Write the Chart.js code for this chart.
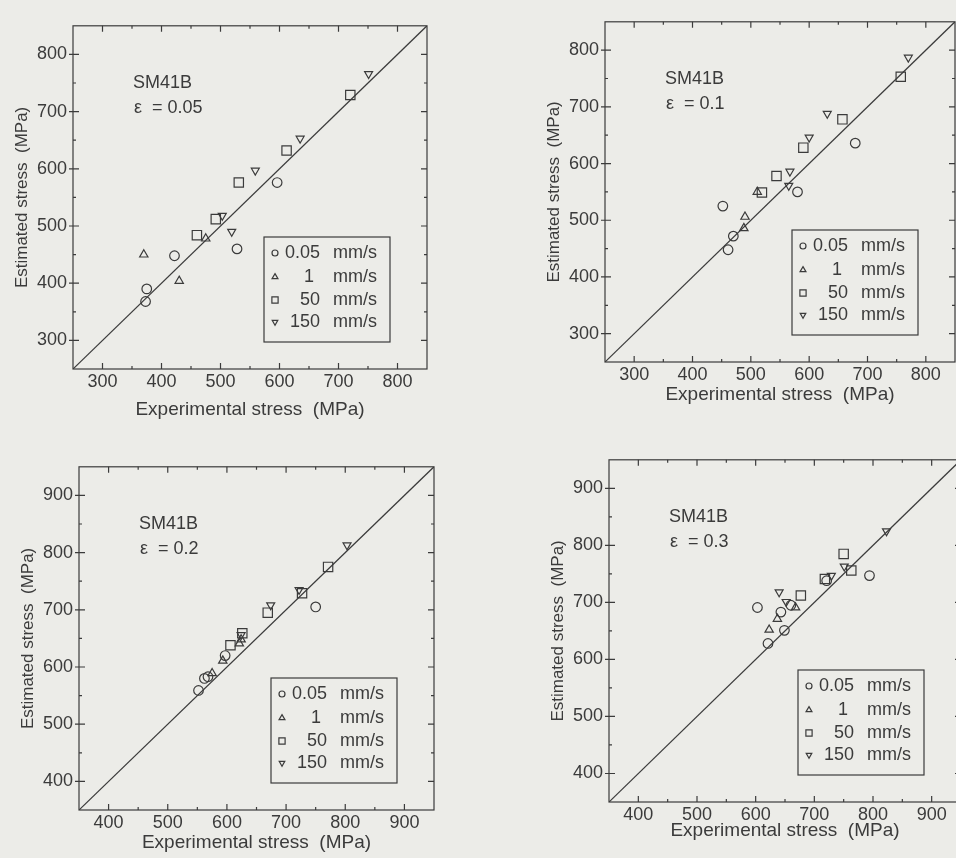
<!DOCTYPE html>
<html>
<head>
<meta charset="utf-8">
<script src="https://cdn.jsdelivr.net/npm/chart.js@4.4.1/dist/chart.umd.min.js"></script>
<style>
  html, body { margin: 0; padding: 0; width: 956px; height: 858px; overflow: hidden; background: #ecece8; }
  canvas { position: absolute; }
</style>
</head>
<body>
<canvas id="c1"></canvas>
<canvas id="c2"></canvas>
<canvas id="c3"></canvas>
<canvas id="c4"></canvas>
<script>
// Axis ranges and tick labels
const rangeLow = [250, 850];
const rangeHigh = [350, 950];
const ticksLow = [300, 400, 500, 600, 700, 800];
const ticksHigh = [400, 500, 600, 700, 800, 900];

// Legend entries (crosshead speed)
const speedLabels = ['0.05', '1', '50', '150'];
const speedUnit = 'mm/s';
const material = 'SM41B';
const strainLabels = ['0.05', '0.1', '0.2', '0.3'];

// [experimental, estimated] pairs, strain 0.05
const e005Circle = [[373, 368], [375, 390], [422, 448], [528, 460], [596, 576]];
const e005Tri    = [[370, 450], [430, 404], [475, 478]];
const e005Square = [[460, 484], [492, 512], [531, 576], [612, 632], [720, 729]];
const e005InvTri = [[503, 518], [519, 490], [559, 597], [635, 653], [751, 766]];

// strain 0.1
const e01Circle = [[452, 525], [461, 448], [470, 472], [580, 550], [679, 636]];
const e01Tri    = [[488, 486], [490, 506], [511, 550]];
const e01Square = [[519, 549], [544, 578], [590, 628], [657, 678], [757, 753]];
const e01InvTri = [[565, 561], [567, 586], [600, 646], [631, 688], [770, 787]];

// strain 0.2
const e02Circle = [[552, 559], [562, 580], [568, 583], [597, 620], [750, 705]];
const e02Tri    = [[575, 589], [593, 611], [621, 641], [624, 648]];
const e02Square = [[606, 638], [626, 659], [669, 695], [727, 729], [771, 775]];
const e02InvTri = [[624, 656], [674, 708], [722, 735], [803, 813]];

// strain 0.3
const e03Circle = [[603, 691], [621, 628], [643, 683], [649, 651], [660, 695], [721, 738], [794, 747]];
const e03Tri    = [[623, 652], [637, 671], [668, 691]];
const e03Square = [[677, 712], [718, 741], [750, 785], [763, 756]];
const e03InvTri = [[640, 718], [652, 701], [729, 747], [751, 763], [823, 825]];

const INK = '#3b3b3b';
const FONT = '"Liberation Sans", Arial, Helvetica, sans-serif';

// marker shapes: circle, triangle, square, inverted triangle
const markerStyle = ['circle', 'triangle', 'rect', 'triangle'];
const markerRotation = [0, 0, 0, 180];
const markerRadius = [4.8, 4.8, 6.6, 4.6];
const legendRadius = [3.0, 3.4, 4.4, 3.2];

// Box frame with inward ticks on all four sides, plus the in-plot notes and legend
const framePlugin = {
  id: 'frameNotes',
  afterDatasetsDraw(chart, args, opts) {
    const { ctx, chartArea: a, scales: { x, y } } = chart;
    ctx.save();
    ctx.strokeStyle = INK;
    ctx.lineWidth = 1.2;
    ctx.strokeRect(a.left, a.top, a.right - a.left, a.bottom - a.top);

    const [lo, hi] = opts.range;
    ctx.beginPath();
    for (let v = lo + 50; v < hi; v += 50) {
      const major = v % 100 === 0;
      const len = major ? 6 : 3;
      const px = x.getPixelForValue(v);
      ctx.moveTo(px, a.bottom); ctx.lineTo(px, a.bottom - len);
      ctx.moveTo(px, a.top); ctx.lineTo(px, a.top + len);
      const py = y.getPixelForValue(v);
      ctx.moveTo(a.left - (major ? 4 : 0), py); ctx.lineTo(a.left + len, py);
      ctx.moveTo(a.right, py); ctx.lineTo(a.right - len, py);
    }
    ctx.stroke();

    // material and strain note
    ctx.fillStyle = INK;
    ctx.textBaseline = 'middle';
    ctx.textAlign = 'left';
    ctx.font = '18px ' + FONT;
    ctx.fillText(material, a.left + 60, a.top + 57);
    ctx.fillText('\u03B5  = ' + opts.strain, a.left + 61, a.top + 82);

    // legend box
    const bw = 126, bh = 105;
    const bx = a.right - 37 - bw, by = a.bottom - 27 - bh;
    ctx.lineWidth = 1.2;
    ctx.strokeRect(bx, by, bw, bh);
    const rows = [16, 40, 63, 85];
    ctx.font = '18px ' + FONT;
    speedLabels.forEach((lab, i) => {
      const cy = by + rows[i];
      ctx.fillStyle = 'rgba(0,0,0,0)';
      ctx.strokeStyle = INK;
      Chart.helpers.drawPoint(ctx, {
        pointStyle: markerStyle[i], rotation: markerRotation[i],
        radius: legendRadius[i], borderWidth: 1.1
      }, bx + 11, cy);
      ctx.fillStyle = INK;
      ctx.textAlign = 'right';
      ctx.fillText(lab, bx + 56 - (lab === '1' ? 6 : 0), cy);
      ctx.textAlign = 'left';
      ctx.fillText(speedUnit, bx + 69, cy);
    });
    ctx.restore();
  }
};

function makePanel(id, box, range, ticks, series, strain, xTitleGap) {
  const padL = 75, padT = 8, padR = 10, padB = 62;
  const cv = document.getElementById(id);
  const w = box.R - box.L + padL + padR;
  const h = box.B - box.T + padT + padB;
  cv.width = w; cv.height = h;
  cv.style.width = w + 'px'; cv.style.height = h + 'px';
  cv.style.left = (box.L - padL) + 'px';
  cv.style.top = (box.T - padT) + 'px';

  const datasets = series.map((pts, i) => ({
    type: 'scatter',
    data: pts.map(p => ({ x: p[0], y: p[1] })),
    pointStyle: markerStyle[i],
    rotation: markerRotation[i],
    pointRadius: markerRadius[i],
    pointBorderWidth: 1.2,
    borderColor: INK,
    backgroundColor: 'rgba(0,0,0,0)'
  }));
  // line of perfect agreement
  datasets.unshift({
    type: 'line',
    data: [{ x: range[0], y: range[0] }, { x: range[1], y: range[1] }],
    borderColor: INK,
    borderWidth: 1.2,
    pointRadius: 0,
    fill: false
  });

  const titlePadBottom = padB - xTitleGap - 11.4;
  const setTicks = s => { s.ticks = ticks.map(v => ({ value: v })); };
  const tickFont = { family: FONT, size: 18 };

  new Chart(cv, {
    data: { datasets },
    plugins: [framePlugin],
    options: {
      responsive: false,
      animation: false,
      events: [],
      layout: { padding: { left: 0, top: padT, right: padR, bottom: 0 } },
      plugins: {
        legend: { display: false },
        tooltip: { enabled: false },
        frameNotes: { range, strain }
      },
      scales: {
        x: {
          type: 'linear', position: 'bottom', min: range[0], max: range[1],
          afterBuildTicks: setTicks,
          afterFit: s => { s.height = padB; },
          grid: { display: false, drawTicks: false },
          border: { display: false },
          ticks: { color: INK, font: tickFont, padding: 2, maxRotation: 0, autoSkip: false,
                   callback: (v, i) => String(ticks[i]) },
          title: { display: true, text: 'Experimental stress  (MPa)', color: INK,
                   font: { family: FONT, size: 19 }, padding: { top: 0, bottom: titlePadBottom } }
        },
        y: {
          type: 'linear', position: 'left', min: range[0], max: range[1],
          afterBuildTicks: setTicks,
          afterFit: s => { s.width = padL; },
          grid: { display: false, drawTicks: false },
          border: { display: false },
          ticks: { color: INK, font: tickFont, padding: 6, autoSkip: false,
                   callback: (v, i) => String(ticks[i]) },
          title: { display: true, text: 'Estimated stress  (MPa)', color: INK,
                   font: { family: FONT, size: 17 }, padding: { top: 14, bottom: 0 } }
        }
      }
    }
  });
}

makePanel('c1', { L: 73, T: 17, R: 427, B: 369 }, rangeLow, ticksLow,
  [e005Circle, e005Tri, e005Square, e005InvTri], strainLabels[0], 41);
makePanel('c2', { L: 605, T: 13, R: 955, B: 362 }, rangeLow, ticksLow,
  [e01Circle, e01Tri, e01Square, e01InvTri], strainLabels[1], 33);
makePanel('c3', { L: 79, T: 458, R: 434, B: 810 }, rangeHigh, ticksHigh,
  [e02Circle, e02Tri, e02Square, e02InvTri], strainLabels[2], 33);
makePanel('c4', { L: 609, T: 451, R: 961, B: 802 }, rangeHigh, ticksHigh,
  [e03Circle, e03Tri, e03Square, e03InvTri], strainLabels[3], 29);
</script>
</body>
</html>
